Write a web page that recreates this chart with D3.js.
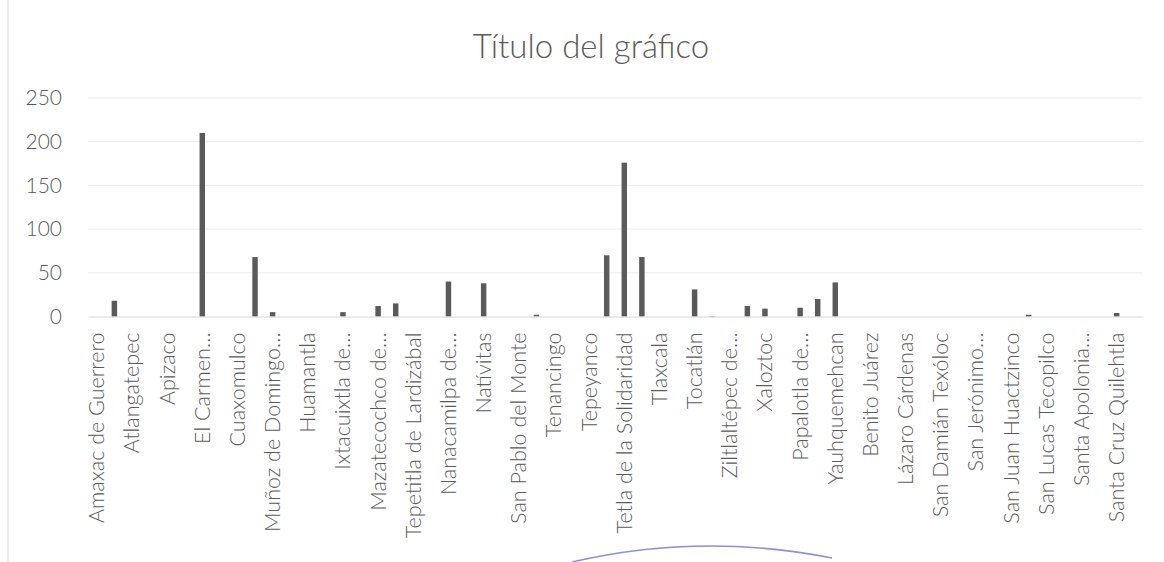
<!DOCTYPE html>
<html>
<head>
<meta charset="utf-8">
<script src="https://cdn.jsdelivr.net/npm/d3@7"></script>
<style>
  body { margin: 0; background: #fff; }
  svg text { font-family: Lato, "Open Sans", sans-serif; fill: #5a5a5a; }
</style>
</head>
<body>
<svg width="1164" height="562"></svg>
<script>
// municipios in INEGI order (60)
var categories = [
  "Amaxac de Guerrero", "Apetatitlán de Antonio Carvajal", "Atlangatepec", "Atltzayanca",
  "Apizaco", "Calpulalpan", "El Carmen Tequexquitla", "Cuapiaxtla", "Cuaxomulco", "Chiautempan",
  "Muñoz de Domingo Arenas", "Españita", "Huamantla", "Hueyotlipan", "Ixtacuixtla de Mariano Matamoros",
  "Ixtenco", "Mazatecochco de José María Morelos", "Contla de Juan Cuamatzi", "Tepetitla de Lardizábal",
  "Sanctórum de Lázaro Cárdenas", "Nanacamilpa de Mariano Arista", "Acuamanala de Miguel Hidalgo",
  "Natívitas", "Panotla", "San Pablo del Monte", "Santa Cruz Tlaxcala", "Tenancingo", "Teolocholco",
  "Tepeyanco", "Terrenate", "Tetla de la Solidaridad", "Tetlatlahuca", "Tlaxcala", "Tlaxco",
  "Tocatlán", "Totolac", "Ziltlaltépec de Trinidad Sánchez Santos", "Tzompantepec", "Xaloztoc",
  "Xaltocan", "Papalotla de Xicohténcatl", "Xicohtzinco", "Yauhquemehcan", "Zacatelco",
  "Benito Juárez", "Emiliano Zapata", "Lázaro Cárdenas", "La Magdalena Tlaltelulco",
  "San Damián Texóloc", "San Francisco Tetlanohcan", "San Jerónimo Zacualpan", "San José Teacalco",
  "San Juan Huactzinco", "San Lorenzo Axocomanitla", "San Lucas Tecopilco", "Santa Ana Nopalucan",
  "Santa Apolonia Teacalco", "Santa Catarina Ayometla", "Santa Cruz Quilehtla", "Santa Isabel Xiloxoxtla"
];

var values = [
  0, 18, 0, 0, 0, 0, 210, 0, 0, 68,
  5, 0, 0, 0, 5, 0, 12, 15, 0, 0,
  40, 0, 38, 0, 0, 2, 0, 0, 0, 70,
  176, 68, 0, 0, 31, 0.5, 0, 12, 9, 0,
  10, 20, 39, 0, 0, 0, 0, 0, 0, 0,
  0, 0, 0, 2, 0, 0, 0, 0, 4, 0
];

// labels as excel shows them (every other category)
var tickLabels = [
  "Amaxac de Guerrero", "Atlangatepec", "Apizaco", "El Carmen…", "Cuaxomulco",
  "Muñoz de Domingo…", "Huamantla", "Ixtacuixtla de…", "Mazatecochco de…", "Tepetitla de Lardizábal",
  "Nanacamilpa de…", "Natívitas", "San Pablo del Monte", "Tenancingo", "Tepeyanco",
  "Tetla de la Solidaridad", "Tlaxcala", "Tocatlán", "Ziltlaltépec de…", "Xaloztoc",
  "Papalotla de…", "Yauhquemehcan", "Benito Juárez", "Lázaro Cárdenas", "San Damián Texóloc",
  "San Jerónimo…", "San Juan Huactzinco", "San Lucas Tecopilco", "Santa Apolonia…", "Santa Cruz Quilehtla"
];

var yTicks = [0, 50, 100, 150, 200, 250];

function main() {
    var svg = d3.select("svg");

    var left = 88, right = 1143, top = 98, bottom = 316.5;

    // faint scan border
    svg.append("line")
       .attr("x1", 8).attr("x2", 8).attr("y1", 0).attr("y2", 562)
       .attr("stroke", "#e4e4e4").attr("stroke-width", 1.5);

    svg.append("text")
       .attr("x", 591)
       .attr("y", 58)
       .attr("text-anchor", "middle")
       .attr("font-size", "33px")
       .attr("font-weight", 300)
       .text("Título del gráfico");

    var xScale = d3.scaleBand()
        .domain(categories)
        .range([left, right])
        .paddingInner(0.69)
        .paddingOuter(0.345);

    var yScale = d3.scaleLinear().domain([0, 250]).range([bottom, top]);

    // gridlines
    svg.append("g")
       .selectAll("line")
       .data(yTicks.slice(1))
       .enter().append("line")
       .attr("x1", left).attr("x2", right)
       .attr("y1", function(d) { return yScale(d); })
       .attr("y2", function(d) { return yScale(d); })
       .attr("stroke", "#ececec");

    var yAxis = svg.append("g")
       .attr("transform", "translate(" + left + ",0)")
       .call(d3.axisLeft(yScale).tickValues(yTicks).tickSize(0).tickPadding(26));
    yAxis.select(".domain").remove();
    yAxis.selectAll("text").attr("font-size", "21px").attr("font-family", null).attr("font-weight", 300);

    svg.selectAll(".bar")
       .data(values)
       .enter().append("rect")
       .attr("class", "bar")
       .attr("x", function(d, i) { return xScale(categories[i]); })
       .attr("y", function(d) { return yScale(d); })
       .attr("width", xScale.bandwidth())
       .attr("height", function(d) { return bottom - yScale(d); })
       .attr("fill", "#5a5a5a");

    // category axis, label only every second one
    var shown = categories.filter(function(d, i) { return i % 2 == 0; });
    var xAxis = svg.append("g")
       .attr("transform", "translate(0," + bottom + ")")
       .call(d3.axisBottom(xScale)
            .tickValues(shown)
            .tickSize(0)
            .tickFormat(function(d, i) { return tickLabels[i]; }));
    xAxis.select(".domain").attr("stroke", "#d6d6d6");
    xAxis.selectAll("text")
       .attr("font-size", "21.5px")
       .attr("font-family", null)
       .attr("font-weight", 300)
       .attr("transform", "rotate(-90)")
       .attr("text-anchor", "end")
       .attr("x", -16)
       .attr("y", 0)
       .attr("dy", "0.35em");

    // pen mark at bottom of scan
    svg.append("path")
       .attr("d", "M572,562 Q700,532 832,558")
       .attr("fill", "none")
       .attr("stroke", "#8f8fd6")
       .attr("stroke-width", 1.5);
}
main();
</script>
</body>
</html>
